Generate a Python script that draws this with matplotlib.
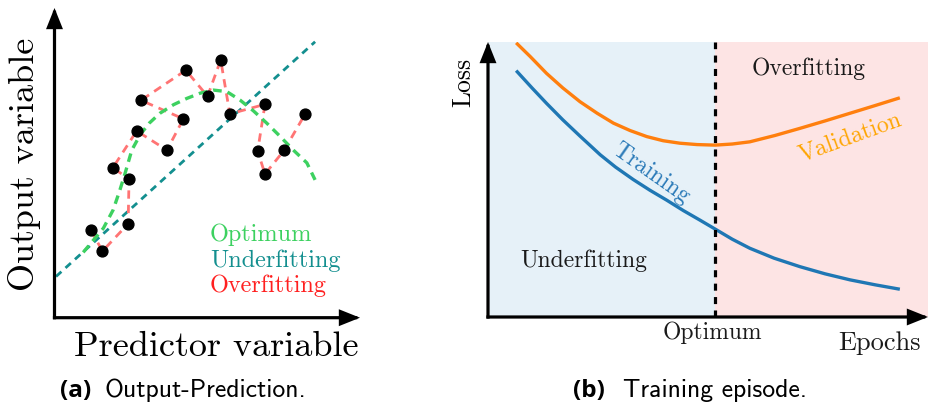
import matplotlib
matplotlib.use("Agg")
import matplotlib.pyplot as plt

W, H = 929, 403
DPI = 100

# ---------------- data: panel (a) ----------------
# observations, listed in the order the overfitting curve visits them
obs_x = [1.19, 1.57, 2.41, 2.44, 1.91, 2.69, 3.68, 4.22, 2.83, 4.30,
         5.01, 5.44, 5.74, 6.89, 6.65, 6.89, 7.52, 8.20]
obs_y = [2.83, 2.15, 3.03, 4.48, 4.84, 6.03, 5.41, 6.42, 7.02, 7.99,
         7.15, 8.32, 6.58, 6.89, 5.38, 4.64, 5.41, 6.57]

# optimum (smooth) fit
opt_x = [0.94, 1.27, 1.60, 1.92, 2.14, 2.31, 2.53, 2.80, 3.10, 3.45, 3.90,
         4.33, 4.77, 5.20, 5.64, 6.07, 6.51, 6.95, 7.38, 7.82, 8.26, 8.53]
opt_y = [2.11, 2.50, 2.89, 3.48, 4.12, 4.66, 5.41, 5.90, 6.28, 6.60, 6.88,
         7.08, 7.25, 7.35, 7.30, 7.03, 6.68, 6.28, 5.86, 5.41, 5.00, 4.45]

# underfitting (straight) fit
under_x = [0.05, 8.53]
under_y = [1.33, 8.91]

# ---------------- data: panel (b) ----------------
epochs_val = [6.4, 9.6, 13.3, 17.0, 20.9, 24.8, 28.5, 32.3, 36.1, 39.8, 43.6,
              47.5, 51.6, 55.5, 59.5, 65.2, 70.9, 76.6, 82.3, 88.0, 93.6]
loss_val = [0.997, 0.947, 0.886, 0.833, 0.783, 0.741, 0.705, 0.678, 0.656,
            0.641, 0.632, 0.627, 0.625, 0.629, 0.637, 0.660, 0.686, 0.713,
            0.741, 0.769, 0.797]

epochs_train = [6.4, 10, 13.3, 17, 20.9, 25.5, 29, 33, 36.8, 40.6, 44.4, 48.2,
                51.6, 55.5, 59.5, 65, 70.9, 76.6, 82.3, 88, 93.6]
loss_train = [0.896, 0.833, 0.777, 0.717, 0.658, 0.590, 0.545, 0.500, 0.461,
              0.425, 0.387, 0.352, 0.320, 0.283, 0.250, 0.214, 0.183, 0.157,
              0.135, 0.117, 0.101]

optimum_epoch = 51.6

# ---------------- styling ----------------
SERIF = "cmr10"
SANS = "cmss10"
plt.rcParams["axes.formatter.use_mathtext"] = True

C_GREEN = "#3dd160"
C_TEAL = "#138f8f"
C_RED = "#ff7474"
C_BLUE = "#1f77b4"
C_ORANGE = "#ff7f0e"
C_SHADE_BLUE = "#e6f1f8"
C_SHADE_PINK = "#fde4e4"

fig = plt.figure(figsize=(W / DPI, H / DPI), dpi=DPI)


def fx(px):
    return px / W


def fy(py):
    return 1 - py / H


def axes_from_px(left, top, right, bottom):
    return fig.add_axes([fx(left), fy(bottom), fx(right) - fx(left), (bottom - top) / H])


def arrow_axes(ax, lw=2.3):
    style = "-|>,head_length=0.55,head_width=0.22"
    for end in [(1, 0), (0, 1)]:
        ax.annotate("", xy=end, xytext=(0, 0), xycoords="axes fraction",
                    textcoords="axes fraction",
                    arrowprops=dict(arrowstyle=style, lw=lw, color="black",
                                    mutation_scale=20, shrinkA=0, shrinkB=0,
                                    joinstyle="miter", capstyle="projecting"),
                    annotation_clip=False)


def bare(ax):
    for s in ax.spines.values():
        s.set_visible(False)
    ax.set_xticks([])
    ax.set_yticks([])
    ax.patch.set_alpha(0)


# ---------------- panel (a) ----------------
axa = axes_from_px(54.5, 8, 360, 317.7)
axa.set_xlim(0, 10)
axa.set_ylim(0, 10)
bare(axa)

axa.plot(under_x, under_y, color=C_TEAL, lw=2.0, ls=(0, (2.6, 2.0)), zorder=2)
axa.plot(obs_x, obs_y, color=C_RED, lw=2.0, ls=(0, (3.0, 2.2)), zorder=3)
axa.plot(opt_x, opt_y, color=C_GREEN, lw=2.4, ls=(0, (2.6, 1.8)), zorder=3)
axa.plot(obs_x, obs_y, ls="none", marker="o", ms=7.8, color="black", zorder=4)
arrow_axes(axa)

fig.text(fx(25), fy(164), "Output variable", family=SERIF, size=26,
         rotation=90, ha="center", va="center")
fig.text(fx(74), fy(356), "Predictor variable", family=SERIF, size=26,
         ha="left", va="baseline")
fig.text(fx(210), fy(240.7), "Optimum", family=SERIF, size=17.5,
         color=C_GREEN, ha="left", va="baseline")
fig.text(fx(210), fy(266.7), "Underfitting", family=SERIF, size=17.5,
         color=C_TEAL, ha="left", va="baseline")
fig.text(fx(210), fy(291.7), "Overfitting", family=SERIF, size=17.5,
         color="#ff2020", ha="left", va="baseline")

# ---------------- panel (b) ----------------
axb = axes_from_px(488, 42, 928, 317)
axb.set_xlim(0, 100)
axb.set_ylim(0, 1)
bare(axb)
axb.axvspan(0, optimum_epoch, color=C_SHADE_BLUE, lw=0, zorder=0)
axb.axvspan(optimum_epoch, 100.5, color=C_SHADE_PINK, lw=0, zorder=0)
axb.axvline(optimum_epoch, color="black", lw=2.3, ls=(0, (2.2, 2.0)), zorder=3)
axb.plot(epochs_val, loss_val, color=C_ORANGE, lw=2.4, zorder=2,
         solid_capstyle="butt", solid_joinstyle="round")
axb.plot(epochs_train, loss_train, color=C_BLUE, lw=2.4, zorder=2,
         solid_capstyle="butt", solid_joinstyle="round")
arrow_axes(axb)

fig.text(fx(475), fy(82), "Loss", family=SERIF, size=18.5, rotation=90,
         ha="right", va="center")
fig.text(fx(752), fy(75), "Overfitting", family=SERIF, size=17,
         ha="left", va="baseline", color="#1a1a1a")
fig.text(fx(520), fy(266.7), "Underfitting", family=SERIF, size=17,
         ha="left", va="baseline", color="#1a1a1a")
fig.text(fx(663), fy(339.3), "Optimum", family=SERIF, size=17,
         ha="left", va="baseline", color="#1a1a1a")
fig.text(fx(838), fy(350), "Epochs", family=SERIF, size=19,
         ha="left", va="baseline", color="#1a1a1a")
fig.text(fx(651), fy(173), "Training", family=SERIF, size=17, color="#2a7ab8",
         rotation=-35, rotation_mode="anchor", ha="center", va="center")
fig.text(fx(850), fy(137), "Validation", family=SERIF, size=17, color="#ffa500",
         rotation=20, rotation_mode="anchor", ha="center", va="center")

# ---------------- captions ----------------
fig.text(fx(60), fy(397), "(a)", family="Open Sans", weight="bold", size=17.5,
         ha="left", va="baseline")
fig.text(fx(105), fy(397), "Output-Prediction.", family=SANS, size=18.5,
         ha="left", va="baseline")
fig.text(fx(573), fy(397), "(b)", family="Open Sans", weight="bold", size=17.5,
         ha="left", va="baseline")
fig.text(fx(623), fy(397), "Training episode.", family=SANS, size=18.5,
         ha="left", va="baseline")

fig.savefig("out.png", dpi=DPI)
